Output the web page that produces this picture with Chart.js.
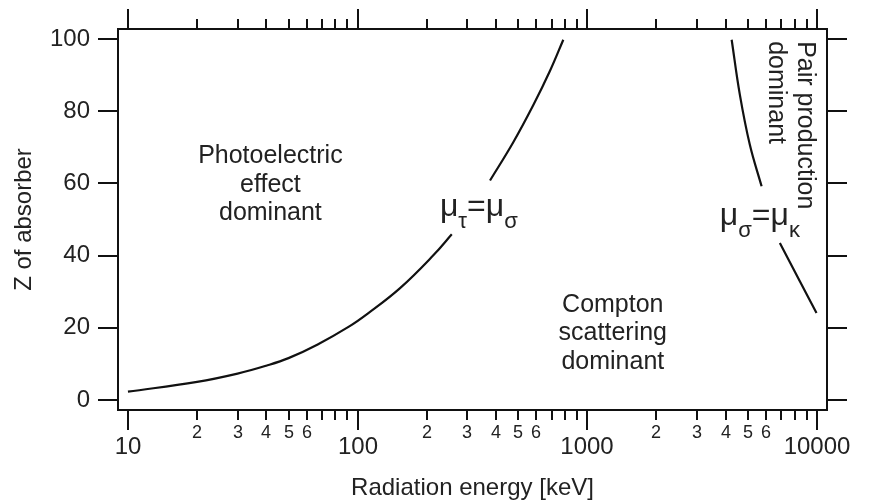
<!DOCTYPE html>
<html><head><meta charset="utf-8">
<script src="https://cdn.jsdelivr.net/npm/chart.js@4"></script>
<style>html,body{margin:0;padding:0;background:#fff;}canvas{display:block;}</style>
</head><body>
<canvas id="c" width="876" height="503"></canvas>
<script>
// ---- data ----
const energyDecades = [10, 100, 1000, 10000];          // major tick values (keV)
const minorMultipliers = [2, 3, 4, 5, 6, 7, 8, 9];     // minor ticks inside each decade
const minorLabelText = ['2', '3', '4', '5', '6'];      // minor ticks that carry a label
const zTicks = [0, 20, 40, 60, 80, 100];

// boundary mu_tau = mu_sigma (photoelectric / Compton), split around its label
const photoComptonLowE = [10, 20, 30, 40, 50, 67, 92, 111, 153, 213, 257];
const photoComptonLowZ = [2.3, 5.0, 7.3, 9.5, 11.6, 15.4, 20.4, 24.0, 31.0, 40.0, 45.9];
const photoComptonHighE = [377, 476, 582, 688, 786];
const photoComptonHighZ = [60.8, 71.4, 81.7, 91.2, 99.8];

// boundary mu_sigma = mu_kappa (Compton / pair production), split around its label
const comptonPairHighE = [4250, 4613, 5100, 5738];
const comptonPairHighZ = [99.8, 84.6, 70.7, 59.2];
const comptonPairLowE = [6890, 8430, 9950];
const comptonPairLowZ = [43.5, 32.8, 24.1];

const regionText = [
  {lines: ['Photoelectric', 'effect', 'dominant'], energy: 41.7, z: 65.6, rotate: false},
  {lines: ['Compton', 'scattering', 'dominant'], energy: 1291, z: 24.4, rotate: false},
  {lines: ['Pair production', 'dominant'], energy: 8262, z: 99.4, rotate: true}
];
const equationText = [
  {parts: [['μ', 0], ['τ', 1], ['=', 0], ['μ', 0], ['σ', 1]], energy: 337, z: 51.1},
  {parts: [['μ', 0], ['σ', 1], ['=', 0], ['μ', 0], ['κ', 1]], energy: 5636, z: 48.5}
];

// ---- chart ----
const FONT = "'Liberation Sans', Arial, sans-serif";
const INK = '#111';
const TXT = '#222';
const xMin = 9.05, xMax = 11053, yMin = -2.77, yMax = 102.77;

const pts = (xs, ys) => xs.map((x, i) => ({x: x, y: ys[i]}));

const decor = {
  id: 'decor',
  afterDraw(chart) {
    const ctx = chart.ctx;
    const xs = chart.scales.x, ys = chart.scales.y;
    const top = chart.chartArea.top, bottom = chart.chartArea.bottom;
    ctx.save();
    ctx.strokeStyle = INK; ctx.lineWidth = 2; ctx.fillStyle = TXT;
    const ticks = [];
    energyDecades.forEach((d, i) => {
      ticks.push({v: d, major: true, label: String(d)});
      if (i < energyDecades.length - 1) {
        minorMultipliers.forEach(m => ticks.push({v: d * m, major: false,
          label: minorLabelText.includes(String(m)) ? String(m) : ''}));
      }
    });
    ctx.textAlign = 'center'; ctx.textBaseline = 'alphabetic';
    ticks.forEach(t => {
      const px = Math.round(xs.getPixelForValue(t.v));
      const len = t.major ? 20 : 10;
      ctx.beginPath();
      ctx.moveTo(px, bottom); ctx.lineTo(px, bottom + len);
      ctx.moveTo(px, top); ctx.lineTo(px, top - len);
      ctx.stroke();
      if (t.label) {
        if (t.major) { ctx.font = '24px ' + FONT; ctx.fillText(t.label, px, bottom + 44); }
        else { ctx.font = '18px ' + FONT; ctx.fillText(t.label, px, bottom + 28); }
      }
    });
    // region annotations
    ctx.font = '25px ' + FONT;
    regionText.forEach(r => {
      const px = xs.getPixelForValue(r.energy), py = ys.getPixelForValue(r.z);
      ctx.save();
      ctx.translate(px, py);
      if (r.rotate) { ctx.rotate(Math.PI / 2); ctx.textAlign = 'left'; }
      else ctx.textAlign = 'center';
      r.lines.forEach((l, i) => ctx.fillText(l, 0, i * 28.5));
      ctx.restore();
    });
    // equation labels
    equationText.forEach(eq => {
      const px = xs.getPixelForValue(eq.energy), py = ys.getPixelForValue(eq.z);
      const fonts = ['32px ' + FONT, '22px ' + FONT];
      let w = 0;
      eq.parts.forEach(p => { ctx.font = fonts[p[1]]; w += ctx.measureText(p[0]).width; });
      let cx = px - w / 2;
      ctx.textAlign = 'left';
      eq.parts.forEach(p => {
        ctx.font = fonts[p[1]];
        ctx.fillText(p[0], cx, py + (p[1] ? 12 : 0));
        cx += ctx.measureText(p[0]).width;
      });
    });
    ctx.restore();
  }
};

const lineStyle = {borderColor: INK, borderWidth: 2.2, pointRadius: 0, fill: false, tension: 0.4};

new Chart(document.getElementById('c'), {
  type: 'line',
  data: {
    datasets: [
      Object.assign({data: pts(photoComptonLowE, photoComptonLowZ)}, lineStyle),
      Object.assign({data: pts(photoComptonHighE, photoComptonHighZ)}, lineStyle),
      Object.assign({data: pts(comptonPairHighE, comptonPairHighZ)}, lineStyle),
      Object.assign({data: pts(comptonPairLowE, comptonPairLowZ)}, lineStyle)
    ]
  },
  options: {
    responsive: false, animation: false, devicePixelRatio: 1,
    layout: {padding: 0},
    font: {family: FONT},
    plugins: {legend: {display: false}, tooltip: {enabled: false}},
    scales: {
      x: {
        type: 'logarithmic', position: 'bottom', min: xMin, max: xMax,
        afterBuildTicks: s => { s.ticks = energyDecades.map(v => ({value: v})); },
        grid: {display: false}, ticks: {display: false},
        border: {display: true, color: INK, width: 2},
        title: {display: true, text: 'Radiation energy [keV]', color: TXT,
          font: {family: FONT, size: 24}, padding: {top: 0, bottom: 0}},
        afterFit: s => { s.height = 93; }
      },
      xTop: {
        type: 'logarithmic', position: 'top', min: xMin, max: xMax,
        afterBuildTicks: s => { s.ticks = energyDecades.map(v => ({value: v})); },
        grid: {display: false}, ticks: {display: false},
        border: {display: true, color: INK, width: 2},
        afterFit: s => { s.height = 29; }
      },
      y: {
        type: 'linear', position: 'left', min: yMin, max: yMax,
        afterBuildTicks: s => { s.ticks = zTicks.map(v => ({value: v})); },
        grid: {drawOnChartArea: false, drawTicks: true, tickLength: 20, tickColor: INK, tickWidth: 2, color: INK, lineWidth: 2},
        border: {display: true, color: INK, width: 2},
        ticks: {padding: 8, color: TXT, font: {family: FONT, size: 24}},
        title: {display: true, text: 'Z of absorber', color: TXT,
          font: {family: FONT, size: 24}, padding: {top: 10, bottom: 0}},
        afterFit: s => { s.width = 118; }
      },
      yRight: {
        type: 'linear', position: 'right', min: yMin, max: yMax,
        afterBuildTicks: s => { s.ticks = zTicks.map(v => ({value: v})); },
        grid: {drawOnChartArea: false, drawTicks: true, tickLength: 20, tickColor: INK, tickWidth: 2, color: INK, lineWidth: 2},
        border: {display: true, color: INK, width: 2},
        ticks: {display: false},
        afterFit: s => { s.width = 49; }
      }
    }
  },
  plugins: [decor]
});
</script>
</body></html>
